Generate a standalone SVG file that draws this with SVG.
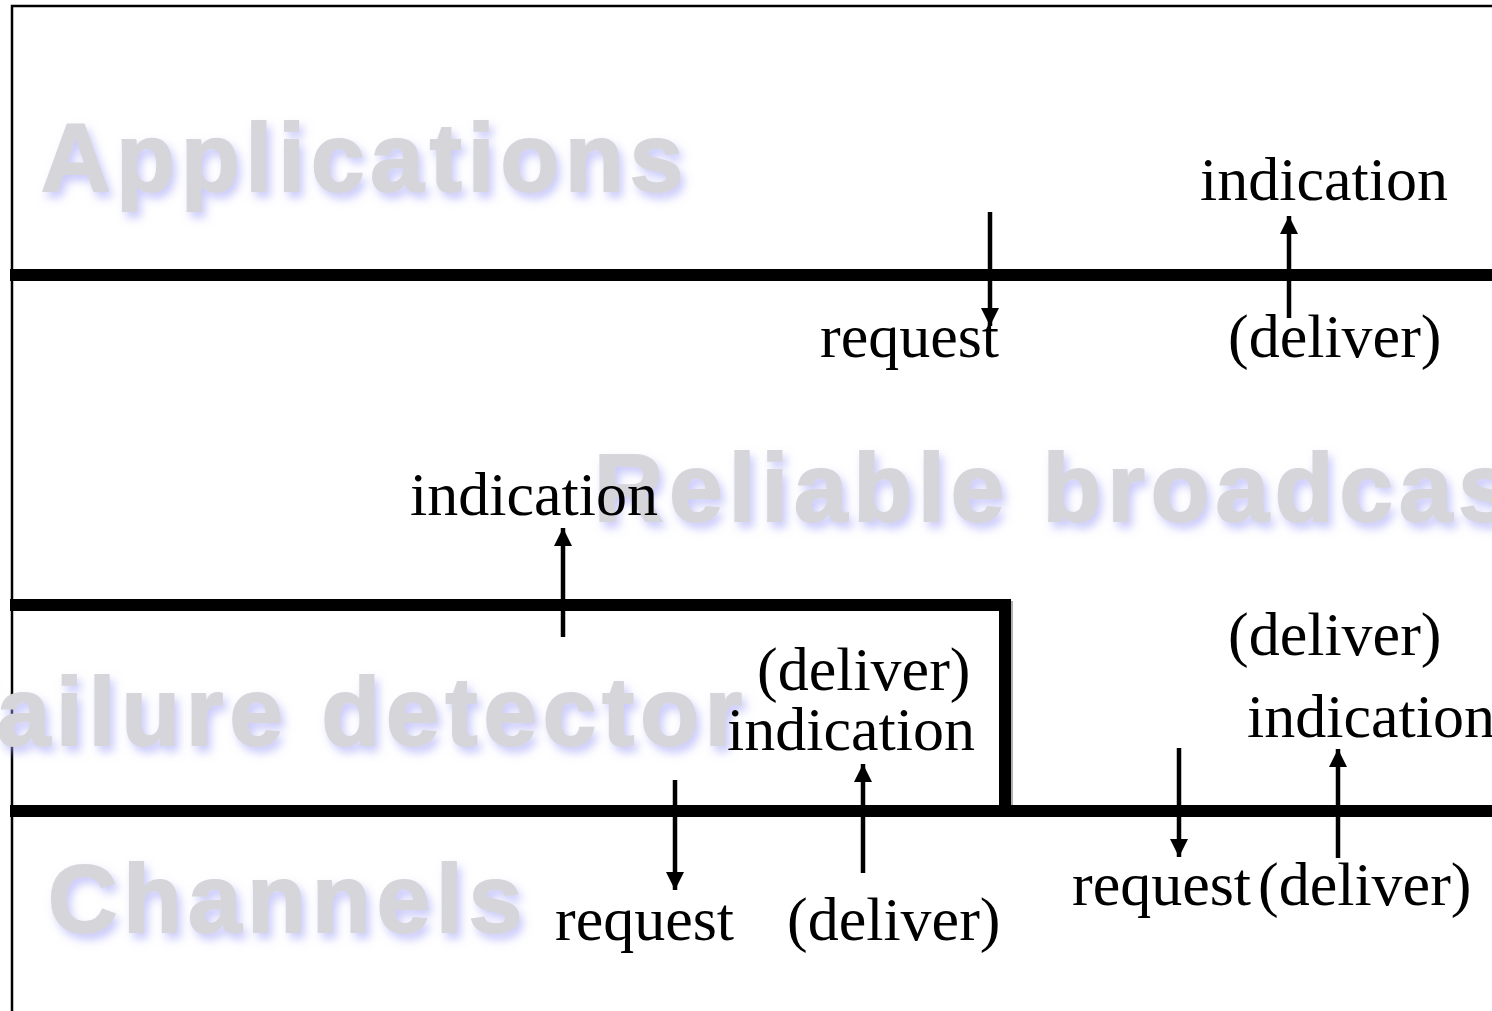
<svg xmlns="http://www.w3.org/2000/svg" width="1492" height="1011" viewBox="0 0 1492 1011">
<style>
.layer{font-family:"Liberation Sans",Arial,sans-serif;font-weight:bold;font-size:96px;letter-spacing:6px;fill:#d5d5da;stroke:#d5d5da;stroke-width:2;filter:url(#glow)}
.lbl{font-family:"Liberation Serif","Times New Roman",serif;font-size:62px;fill:#000}
.bar{stroke:#000;stroke-width:12;fill:none}
.barsh{stroke:#b0b0b0;stroke-width:12;fill:none}
.arr{stroke:#000;stroke-width:4.5;fill:none;marker-end:url(#ah)}
</style>
<defs>
<filter id="glow" x="-10%" y="-30%" width="120%" height="160%">
<feGaussianBlur in="SourceAlpha" stdDeviation="5" result="b"/>
<feOffset in="b" dx="4" dy="6" result="o"/>
<feFlood flood-color="#a6a6f8" flood-opacity="0.6"/>
<feComposite in2="o" operator="in" result="s"/>
<feMerge><feMergeNode in="s"/><feMergeNode in="SourceGraphic"/></feMerge>
</filter>
<marker id="ah" viewBox="0 0 10 10" refX="10" refY="5" markerWidth="4" markerHeight="4" markerUnits="strokeWidth" orient="auto">
<path d="M0,0 L10,5 L0,10 z" fill="#000"/>
</marker>
</defs>
<rect x="12" y="6" width="1500" height="1020" fill="none" stroke="#000" stroke-width="2.5"/>
<g id="layer-applications"><text class="layer" x="41" y="191">Applications</text></g>
<g id="layer-reliable-broadcast"><text class="layer" x="594" y="521">Reliable broadcast</text></g>
<g id="layer-failure-detector"><text class="layer" x="-68" y="745">Failure detector</text></g>
<g id="layer-channels"><text class="layer" x="48" y="932">Channels</text></g>
<g id="boundaries">
<line class="barsh" x1="1007" y1="601" x2="1007" y2="811"/>
<line class="bar" x1="10" y1="275" x2="1492" y2="275"/>
<polyline class="bar" points="10,605 1005,605 1005,811"/>
<line class="bar" x1="10" y1="811" x2="1492" y2="811"/>
</g>
<g id="connectors">
<line class="arr" x1="990" y1="212" x2="990" y2="326"/>
<line class="arr" x1="1289" y1="318" x2="1289" y2="216"/>
<line class="arr" x1="563" y1="637" x2="563" y2="528"/>
<line class="arr" x1="675" y1="780" x2="675" y2="890"/>
<line class="arr" x1="863" y1="873" x2="863" y2="764"/>
<line class="arr" x1="1179" y1="748" x2="1179" y2="857"/>
<line class="arr" x1="1338" y1="858" x2="1338" y2="749"/>
</g>
<g id="labels">
<text class="lbl" x="1200" y="200">indication</text>
<text class="lbl" x="820" y="357">request</text>
<text class="lbl" x="1228" y="357">(deliver)</text>
<text class="lbl" x="410" y="515">indication</text>
<text class="lbl" x="757" y="690">(deliver)</text>
<text class="lbl" x="727" y="750">indication</text>
<text class="lbl" x="1228" y="655">(deliver)</text>
<text class="lbl" x="1247" y="737">indication</text>
<text class="lbl" x="555" y="940">request</text>
<text class="lbl" x="787" y="940">(deliver)</text>
<text class="lbl" x="1072" y="905">request</text>
<text class="lbl" x="1258" y="905">(deliver)</text>
</g>
</svg>
